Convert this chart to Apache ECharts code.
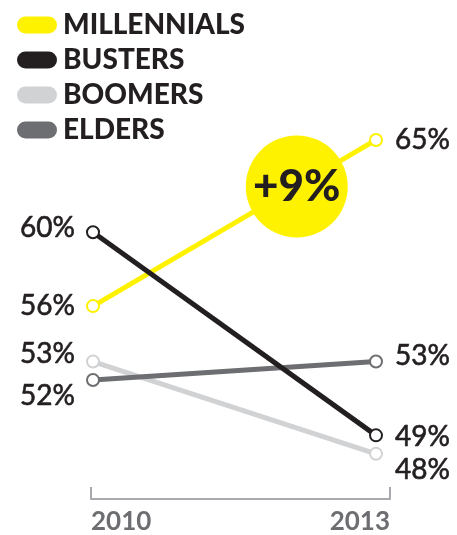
<!DOCTYPE html>
<html>
<head>
<meta charset="utf-8">
<script src="https://cdn.jsdelivr.net/npm/echarts@6/dist/echarts.min.js"></script>
<style>
html,body{margin:0;padding:0;background:#fff;}
#chart{width:457px;height:535px;}
</style>
</head>
<body>
<div id="chart"></div>
<script>
var years = [2010, 2013];
var legendOrder = ['MILLENNIALS', 'BUSTERS', 'BOOMERS', 'ELDERS'];
var millennials = [56, 65];
var busters = [60, 49];
var boomers = [53, 48];
var elders = [52, 53];

var colors = {
  MILLENNIALS: '#fff200',
  BUSTERS: '#231f20',
  BOOMERS: '#d1d2d4',
  ELDERS: '#6d6e71'
};
// vertical label nudges (pixels) to keep close labels apart, [start, end]
var labelNudge = {
  MILLENNIALS: [0, 0],
  BUSTERS: [-4, 2],
  BOOMERS: [-8, 16],
  ELDERS: [16, -6]
};
var FONT = 'Lato, "Noto Sans", sans-serif';
var TEXT = '#231f20';

function buildData(name, vals) {
  return vals.map(function (v, i) {
    return {
      value: [years[i], v],
      label: {
        position: i === 0 ? 'left' : 'right',
        distance: i === 0 ? 11 : 12,
        offset: [0, labelNudge[name][i]]
      }
    };
  });
}

function makeSeries(name, vals, extra) {
  var s = {
    name: name,
    type: 'line',
    data: buildData(name, vals),
    symbol: 'emptyCircle',
    symbolSize: 12,
    showAllSymbol: true,
    color: colors[name],
    lineStyle: { color: colors[name], width: 5 },
    itemStyle: { color: colors[name], borderWidth: 2.5 },
    label: {
      show: true,
      formatter: function (p) { return p.value[1] + '%'; },
      fontFamily: FONT,
      fontSize: 28,
      fontWeight: 'normal',
      color: TEXT,
      textBorderColor: TEXT,
      textBorderWidth: 0.6
    },
    emphasis: { disabled: true },
    animation: false
  };
  if (extra) { for (var k in extra) s[k] = extra[k]; }
  return s;
}

// annotation bubble placed along the millennials line
var t = 0.72;
var bubbleCoord = [
  years[0] + (years[1] - years[0]) * t,
  millennials[0] + (millennials[1] - millennials[0]) * t
];
var change = millennials[1] - millennials[0];

var chart = echarts.init(document.getElementById('chart'), null, { renderer: 'canvas' });
chart.setOption({
  backgroundColor: '#ffffff',
  animation: false,
  legend: {
    data: legendOrder,
    orient: 'vertical',
    left: 12,
    top: 6,
    itemWidth: 40,
    itemHeight: 17,
    itemGap: 7,
    icon: 'path://M8.5,0 H31.5 A8.5,8.5 0 0 1 31.5,17 H8.5 A8.5,8.5 0 0 1 8.5,0 Z',
    selectedMode: false,
    textStyle: {
      fontFamily: FONT,
      fontSize: 28,
      lineHeight: 28,
      fontWeight: 900,
      color: TEXT,
      padding: [0, 0, 0, 1]
    }
  },
  grid: [
    { left: 93, right: 81, top: 103, bottom: 35 },
    { left: 91, right: 67, top: 103, bottom: 35 }
  ],
  xAxis: [
    {
      type: 'value',
      gridIndex: 0,
      min: 2010,
      max: 2013,
      interval: 3,
      show: false,
      splitLine: { show: false }
    },
    {
      type: 'value',
      gridIndex: 1,
      min: 2010,
      max: 2013,
      interval: 3,
      axisLine: { show: true, lineStyle: { color: '#a7a9ac', width: 2 } },
      axisTick: { show: true, inside: true, length: 12, lineStyle: { color: '#a7a9ac', width: 2 } },
      splitLine: { show: false },
      axisLabel: {
        formatter: function (v) { return String(v); },
        fontFamily: FONT,
        fontSize: 26,
        fontWeight: 'bold',
        color: '#6d6e71',
        margin: 10,
        alignMinLabel: 'left',
        alignMaxLabel: 'right'
      }
    }
  ],
  yAxis: [
    { type: 'value', gridIndex: 0, min: 45.5, max: 67, show: false, splitLine: { show: false } },
    { type: 'value', gridIndex: 1, min: 45.5, max: 67, show: false, splitLine: { show: false } }
  ],
  series: [
    makeSeries('BOOMERS', boomers),
    makeSeries('ELDERS', elders),
    makeSeries('MILLENNIALS', millennials, {
      markPoint: {
        symbol: 'circle',
        symbolSize: 102,
        silent: true,
        itemStyle: { color: colors.MILLENNIALS },
        label: {
          show: true,
          formatter: '+' + change + '%',
          fontFamily: FONT,
          fontSize: 44,
          fontWeight: 900,
          color: TEXT
        },
        data: [{ coord: bubbleCoord }]
      }
    }),
    makeSeries('BUSTERS', busters)
  ]
});
</script>
</body>
</html>
